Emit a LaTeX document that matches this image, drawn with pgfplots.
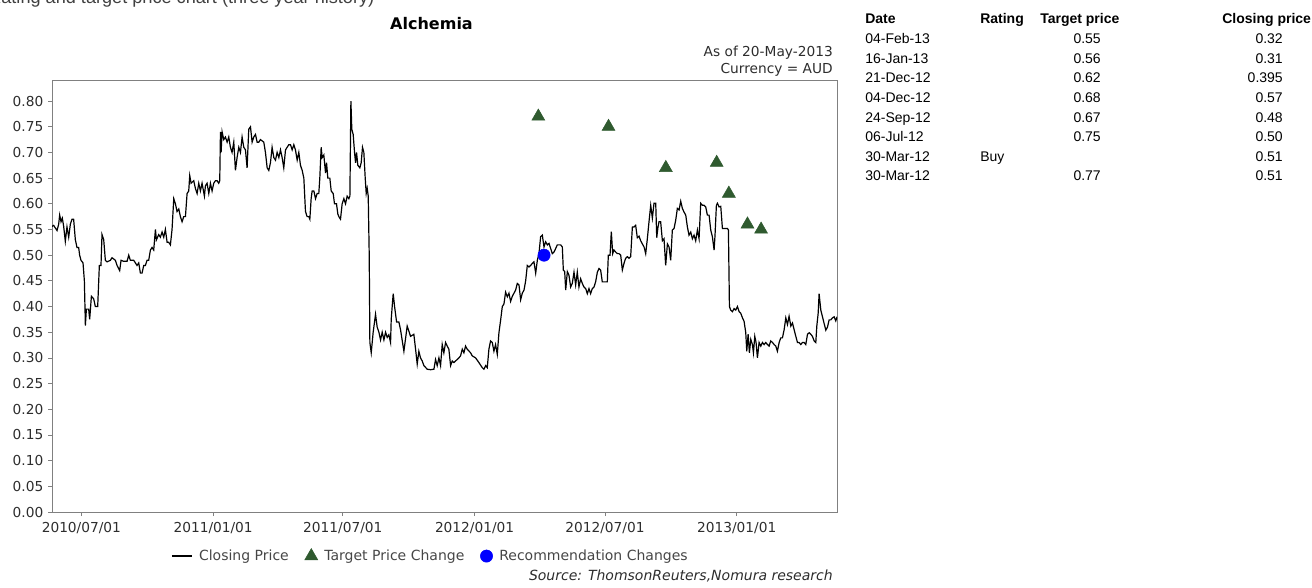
\documentclass[border=0pt]{standalone}
\usepackage{fontspec}
\setmainfont{DejaVu Sans}
\newfontfamily\tablefont{Liberation Sans}
\usepackage{pgfplots}
\usepackage{pgfplotstable}
\pgfplotsset{compat=1.18}
\definecolor{tri}{RGB}{47,90,47}
\definecolor{framegray}{RGB}{128,128,128}
\definecolor{txt}{RGB}{45,45,45}
\definecolor{legtxt}{RGB}{70,70,70}

\pgfplotstableread{
d v
-41.0 0.556
-38.7 0.558
-36.4 0.553
-34.0 0.548
-31.7 0.56
-30.3 0.578
-28.4 0.565
-26.6 0.572
-24.7 0.556
-22.4 0.527
-20.1 0.555
-17.7 0.535
-15.4 0.56
-13.1 0.57
-10.8 0.57
-8.4 0.53
-6.1 0.515
-3.8 0.515
-2.4 0.50
-0.5 0.49
2.3 0.485
4.2 0.45
5.6 0.363
7.0 0.395
10.2 0.395
11.6 0.375
14.0 0.42
17.2 0.415
19.5 0.40
22.8 0.40
25.1 0.48
27.4 0.48
28.8 0.54
31.2 0.53
33.5 0.49
35.8 0.487
40.5 0.49
42.8 0.495
47.5 0.49
49.8 0.48
53.5 0.47
55.4 0.49
59.1 0.488
63.8 0.488
66.1 0.50
68.4 0.49
73.1 0.49
77.7 0.48
80.1 0.485
82.4 0.465
84.7 0.465
87.1 0.48
89.4 0.48
91.7 0.49
94.0 0.49
96.4 0.51
98.7 0.515
101.0 0.51
103.4 0.55
104.8 0.53
108.0 0.54
110.3 0.535
112.7 0.545
115.0 0.535
117.3 0.55
119.7 0.525
122.0 0.525
124.3 0.52
126.6 0.55
129.0 0.61
131.3 0.60
133.6 0.585
136.0 0.59
138.3 0.575
140.6 0.565
142.9 0.575
145.3 0.575
147.6 0.62
149.9 0.625
151.3 0.655
153.2 0.64
156.9 0.645
159.2 0.63
161.6 0.62
163.9 0.64
166.2 0.625
168.5 0.64
171.8 0.615
173.2 0.635
175.5 0.64
177.9 0.62
180.2 0.64
182.5 0.625
184.8 0.64
187.2 0.645
189.5 0.645
191.8 0.64
193.2 0.645
194.2 0.74
195.1 0.70
196.5 0.74
198.8 0.725
201.1 0.73
203.5 0.72
205.8 0.73
208.1 0.71
210.4 0.70
212.8 0.72
215.1 0.665
217.4 0.69
219.8 0.71
222.1 0.70
224.4 0.73
226.8 0.71
229.1 0.705
231.4 0.67
233.7 0.745
236.1 0.75
238.4 0.72
240.7 0.73
243.1 0.735
245.4 0.72
247.7 0.72
250.0 0.725
254.7 0.72
257.0 0.70
259.4 0.67
261.7 0.665
264.0 0.68
266.3 0.71
268.7 0.69
271.0 0.685
273.3 0.70
275.7 0.69
278.0 0.705
280.3 0.69
282.6 0.67
285.0 0.705
287.3 0.71
289.6 0.715
292.0 0.715
294.3 0.705
296.6 0.715
298.9 0.705
301.3 0.685
303.6 0.70
305.9 0.675
308.3 0.665
310.6 0.65
312.9 0.585
315.2 0.575
317.6 0.575
319.0 0.57
320.8 0.61
322.2 0.625
324.6 0.625
326.9 0.61
329.2 0.62
331.5 0.62
332.9 0.65
334.8 0.71
336.2 0.69
338.5 0.695
340.9 0.66
342.3 0.68
344.1 0.65
346.9 0.65
348.8 0.625
351.6 0.62
353.4 0.60
356.2 0.60
358.1 0.58
359.5 0.575
361.8 0.57
364.1 0.60
366.5 0.61
368.8 0.60
371.1 0.615
373.5 0.61
374.9 0.615
376.3 0.80
377.6 0.745
379.5 0.735
381.4 0.70
382.8 0.68
384.2 0.70
386.0 0.675
388.8 0.67
390.7 0.68
392.5 0.71
394.4 0.70
396.3 0.65
397.7 0.62
399.1 0.63
400.5 0.615
401.9 0.50
402.8 0.33
404.7 0.31
407.4 0.35
409.3 0.37
410.7 0.385
413.0 0.36
415.4 0.35
417.7 0.335
420.0 0.35
422.4 0.335
424.7 0.35
427.0 0.34
429.3 0.345
431.7 0.33
432.6 0.375
434.5 0.41
435.4 0.425
437.3 0.40
440.1 0.37
443.3 0.37
445.6 0.355
450.3 0.313
454.9 0.362
459.6 0.342
464.2 0.346
466.6 0.317
468.9 0.288
471.2 0.313
473.5 0.30
475.9 0.294
478.2 0.285
482.9 0.278
487.5 0.277
492.2 0.278
494.5 0.297
496.8 0.285
499.2 0.30
501.5 0.285
503.8 0.326
506.1 0.31
508.5 0.33
510.8 0.323
513.1 0.317
515.5 0.285
517.8 0.294
520.1 0.291
524.8 0.297
527.1 0.30
529.4 0.304
531.8 0.317
534.1 0.31
536.4 0.323
538.7 0.317
543.4 0.31
545.7 0.304
550.4 0.30
555.0 0.291
559.7 0.281
562.0 0.278
564.4 0.285
566.7 0.281
569.0 0.317
571.3 0.333
573.7 0.33
576.0 0.313
578.3 0.326
580.7 0.307
583.0 0.349
585.4 0.374
587.7 0.40
590.0 0.405
592.3 0.428
594.7 0.419
597.0 0.426
599.3 0.41
601.7 0.42
604.0 0.426
606.3 0.432
608.6 0.445
611.0 0.442
613.3 0.413
615.6 0.426
618.0 0.432
620.3 0.45
622.6 0.48
624.9 0.477
627.3 0.48
629.6 0.484
631.9 0.487
634.3 0.465
636.6 0.49
638.9 0.503
641.2 0.536
643.6 0.539
645.9 0.516
648.2 0.526
650.6 0.52
652.9 0.523
655.2 0.513
657.5 0.503
659.9 0.506
662.2 0.513
664.5 0.52
669.2 0.52
671.5 0.516
672.9 0.471
674.8 0.468
676.2 0.432
678.5 0.468
680.8 0.461
683.1 0.438
685.4 0.445
687.8 0.467
690.1 0.442
692.4 0.467
694.7 0.438
697.1 0.454
699.4 0.445
701.7 0.438
704.1 0.435
706.4 0.425
708.7 0.435
711.0 0.425
713.4 0.435
715.7 0.438
718.0 0.448
720.4 0.467
722.7 0.474
725.0 0.471
727.3 0.448
729.7 0.448
732.0 0.448
734.3 0.448
735.7 0.50
738.1 0.50
739.9 0.546
741.8 0.503
743.6 0.51
746.0 0.506
748.3 0.503
750.6 0.503
753.0 0.50
755.3 0.471
757.6 0.484
759.9 0.494
762.3 0.497
764.6 0.494
766.9 0.497
769.3 0.555
771.6 0.555
773.9 0.558
776.2 0.534
778.6 0.537
780.9 0.528
783.2 0.522
785.6 0.516
787.9 0.503
790.2 0.532
792.5 0.565
794.9 0.597
797.2 0.572
799.5 0.601
801.9 0.601
803.3 0.534
805.1 0.555
806.5 0.565
808.8 0.565
811.2 0.528
813.5 0.532
815.8 0.48
818.2 0.522
820.5 0.516
822.8 0.49
825.1 0.549
827.5 0.552
829.8 0.568
832.1 0.591
834.5 0.588
836.8 0.605
839.1 0.591
841.4 0.584
843.8 0.578
846.1 0.555
848.4 0.539
850.8 0.545
853.1 0.532
855.4 0.539
857.7 0.528
860.1 0.549
862.4 0.532
864.7 0.601
867.1 0.597
869.4 0.597
871.7 0.594
874.0 0.578
876.4 0.578
878.7 0.549
881.0 0.536
883.4 0.51
884.7 0.539
886.6 0.597
888.0 0.601
890.3 0.594
892.7 0.595
895.0 0.552
897.3 0.552
899.6 0.552
902.0 0.552
903.4 0.549
904.8 0.40
906.6 0.393
909.0 0.39
911.3 0.396
913.6 0.393
916.0 0.40
918.3 0.39
920.6 0.387
923.0 0.378
925.3 0.371
927.6 0.349
929.0 0.313
930.9 0.346
932.7 0.31
934.6 0.336
936.9 0.326
938.3 0.31
940.2 0.342
942.0 0.33
943.9 0.30
946.2 0.33
948.6 0.323
950.9 0.33
953.2 0.326
955.5 0.33
957.9 0.326
960.2 0.323
962.5 0.333
964.9 0.33
967.2 0.326
969.5 0.323
971.8 0.313
974.2 0.33
976.5 0.339
978.8 0.339
981.2 0.355
983.5 0.378
985.8 0.365
988.1 0.381
990.5 0.362
992.8 0.368
995.1 0.355
997.5 0.342
999.8 0.33
1002.1 0.33
1004.4 0.326
1006.8 0.33
1009.1 0.33
1011.4 0.326
1013.8 0.346
1016.1 0.349
1018.4 0.346
1020.7 0.342
1023.1 0.333
1025.4 0.33
1026.8 0.362
1028.7 0.387
1030.0 0.425
1032.4 0.393
1034.7 0.38
1037.0 0.367
1039.4 0.354
1041.7 0.36
1044.0 0.374
1046.3 0.374
1048.7 0.378
1051.0 0.38
1053.3 0.372
1055.0 0.38
}\closing

\newcommand{\cf}{\fontsize{10.3pt}{12pt}\selectfont}
\newcommand{\lf}{\fontsize{10.5pt}{12pt}\selectfont}
\newcommand{\tf}{\tablefont\fontsize{10.5pt}{12.5pt}\selectfont}

\begin{document}
\begin{tikzpicture}[x=0.75pt,y=0.75pt]
\useasboundingbox (0,0) rectangle (1312,587);
\clip (0,0) rectangle (1312,587);

% cut-off heading at the very top (cut off in the reference too)
\node[anchor=base west, inner sep=0pt, text=black!75] at (-12,583)
  {\tablefont\fontsize{13.6pt}{15pt}\selectfont Rating and target price chart (three year history)};

% title and notes
\node[anchor=base, inner sep=0pt] at (431.5,557.5) {\fontsize{12pt}{14pt}\selectfont\bfseries Alchemia};
\node[anchor=base east, inner sep=0pt, text=txt] at (833,531) {\cf As of 20-May-2013};
\node[anchor=base east, inner sep=0pt, text=txt] at (833,513) {\cf Currency = AUD};
\node[anchor=base east, inner sep=0pt, text=txt] at (833,7) {\lf\itshape Source: ThomsonReuters,Nomura research};

\begin{axis}[
  at={(39pt,56.25pt)}, anchor=south west,
  scale only axis, width=588.75pt, height=324pt,
  xmin=-41, xmax=1055, ymin=0, ymax=0.841,
  axis line style={framegray, line width=0.6pt},
  tick pos=left, tick align=outside, major tick length=3pt,
  tick style={framegray, line width=0.6pt},
  xtick={0,184,365,549,731,915},
  xticklabels={2010/07/01,2011/01/01,2011/07/01,2012/01/01,2012/07/01,2013/01/01},
  xticklabel style={yshift=-1pt},
  ytick={0,0.05,0.1,0.15,0.2,0.25,0.3,0.35,0.4,0.45,0.5,0.55,0.6,0.65,0.7,0.75,0.8},
  /pgf/number format/assume math mode=true,
  yticklabel={\pgfmathprintnumber[fixed,fixed zerofill,precision=2,assume math mode=true]{\tick}},
  ticklabel style={font=\cf, text=txt},
  scaled y ticks=false,
  legend columns=3,
  legend style={at={(0.4825,-0.102)}, anchor=center, draw=none, fill=none,
    font=\lf, text=legtxt,
    /tikz/every odd column/.append style={column sep=3pt},
    /tikz/every even column/.append style={column sep=10pt}},
]
\addplot[black, line width=0.9pt, mark=none,
  legend image code/.code={\draw[##1] (0pt,0pt) -- (15pt,0pt);}] table[x=d, y=v] {\closing};
\addlegendentry{Closing Price}
\addplot[only marks, mark=triangle*, mark size=5.6pt, color=tri, mark options={fill=tri, draw=tri}]
  coordinates {(638,0.77) (736,0.75) (816,0.67) (887,0.68) (904,0.62) (930,0.56) (949,0.55)};
\addlegendentry{Target Price Change}
\addplot[only marks, mark=*, mark size=4.6pt, color=blue, mark options={fill=blue, draw=blue}]
  coordinates {(646,0.50)};
\addlegendentry{Recommendation Changes}
\end{axis}

% table on the right
\node[anchor=base west, inner sep=0pt] at (865,563) {\tf\bfseries Date};
\node[anchor=base west, inner sep=0pt] at (980,563) {\tf\bfseries Rating};
\node[anchor=base west, inner sep=0pt] at (1040,563) {\tf\bfseries Target price};
\node[anchor=base west, inner sep=0pt] at (1222,563) {\tf\bfseries Closing price};

\node[anchor=base west, inner sep=0pt] at (865,543) {\tf 04-Feb-13};
\node[anchor=base east, inner sep=0pt] at (1101,543) {\tf 0.55};
\node[anchor=base east, inner sep=0pt] at (1283,543) {\tf 0.32};

\node[anchor=base west, inner sep=0pt] at (865,523.5) {\tf 16-Jan-13};
\node[anchor=base east, inner sep=0pt] at (1101,523.5) {\tf 0.56};
\node[anchor=base east, inner sep=0pt] at (1283,523.5) {\tf 0.31};

\node[anchor=base west, inner sep=0pt] at (865,504) {\tf 21-Dec-12};
\node[anchor=base east, inner sep=0pt] at (1101,504) {\tf 0.62};
\node[anchor=base east, inner sep=0pt] at (1283,504) {\tf 0.395};

\node[anchor=base west, inner sep=0pt] at (865,484.5) {\tf 04-Dec-12};
\node[anchor=base east, inner sep=0pt] at (1101,484.5) {\tf 0.68};
\node[anchor=base east, inner sep=0pt] at (1283,484.5) {\tf 0.57};

\node[anchor=base west, inner sep=0pt] at (865,465) {\tf 24-Sep-12};
\node[anchor=base east, inner sep=0pt] at (1101,465) {\tf 0.67};
\node[anchor=base east, inner sep=0pt] at (1283,465) {\tf 0.48};

\node[anchor=base west, inner sep=0pt] at (865,445.5) {\tf 06-Jul-12};
\node[anchor=base east, inner sep=0pt] at (1101,445.5) {\tf 0.75};
\node[anchor=base east, inner sep=0pt] at (1283,445.5) {\tf 0.50};

\node[anchor=base west, inner sep=0pt] at (865,426) {\tf 30-Mar-12};
\node[anchor=base west, inner sep=0pt] at (980,426) {\tf Buy};
\node[anchor=base east, inner sep=0pt] at (1283,426) {\tf 0.51};

\node[anchor=base west, inner sep=0pt] at (865,406.5) {\tf 30-Mar-12};
\node[anchor=base east, inner sep=0pt] at (1101,406.5) {\tf 0.77};
\node[anchor=base east, inner sep=0pt] at (1283,406.5) {\tf 0.51};
\end{tikzpicture}
\end{document}
